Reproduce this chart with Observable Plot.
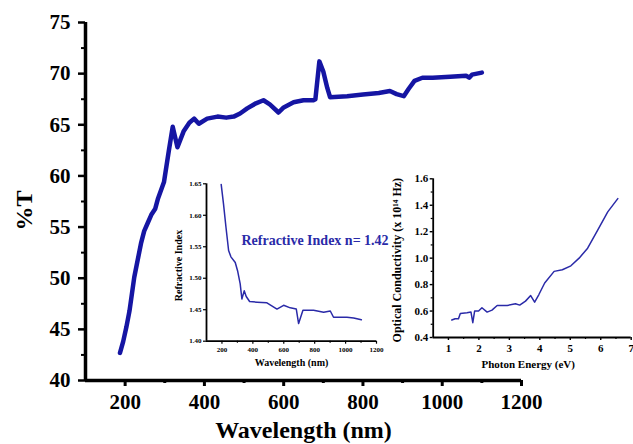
<!DOCTYPE html>
<html><head><meta charset="utf-8">
<script src="https://cdn.jsdelivr.net/npm/d3@7"></script>
<script src="https://cdn.jsdelivr.net/npm/@observablehq/plot@0.6"></script>
<style>
html,body{margin:0;padding:0;background:#fff;}
#wrap{position:relative;width:633px;height:444px;overflow:hidden;}
#wrap svg{position:absolute;overflow:visible;background:transparent !important;max-width:none !important;}
</style></head><body><div id="wrap"></div>
<script>
// Main chart: transmittance
const wavelength = [187,195,203,211,223,240,248,257,266,276,283,298,310,320,332,348,362,374,386,407,433,455,474,490,508,530,549,565,587,600,625,650,675,680,690,700,710,717,760,800,840,868,885,903,915,930,950,976,1020,1060,1068,1075,1100];
const transmittance = [42.7,43.8,45.2,46.8,50.1,53.4,54.6,55.4,56.2,56.8,57.8,59.4,62.4,64.8,62.8,64.4,65.2,65.6,65.1,65.6,65.8,65.7,65.8,66.1,66.6,67.1,67.4,67.0,66.2,66.7,67.2,67.4,67.4,67.5,71.2,70.2,68.6,67.7,67.8,67.95,68.1,68.3,68.0,67.8,68.5,69.3,69.6,69.6,69.7,69.8,69.6,69.9,70.1];
const mainXTicks = [200,400,600,800,1000,1200];
const mainXMinor = [300,500,700,900,1100];
const mainYTicks = [40,45,50,55,60,65,70,75];
const mainYMinor = [42.5,47.5,52.5,57.5,62.5,67.5,72.5];

// Inset 1: refractive index
const riWavelength = [195,210,226,243,258,286,301,318,329,344,357,379,427,491,556,599,642,681,696,724,793,858,901,922,1009,1052,1102];
const riIndex = [1.649,1.618,1.581,1.544,1.534,1.525,1.512,1.491,1.467,1.480,1.471,1.463,1.462,1.461,1.451,1.457,1.453,1.451,1.428,1.449,1.449,1.446,1.448,1.438,1.438,1.437,1.434];
const riXTicks = [200,400,600,800,1000,1200];
const riXMinor = [300,500,700,900,1100];
const riYTicks = [1.40,1.45,1.50,1.55,1.60,1.65];

// Inset 2: optical conductivity
const photonEnergy = [1.11,1.22,1.33,1.39,1.61,1.74,1.80,1.86,1.99,2.10,2.27,2.43,2.60,2.93,3.20,3.34,3.53,3.70,3.83,3.97,4.16,4.47,4.74,5.02,5.29,5.57,5.90,6.23,6.56];
const conductivity = [0.532,0.542,0.542,0.582,0.587,0.592,0.512,0.600,0.600,0.625,0.592,0.607,0.642,0.642,0.655,0.645,0.675,0.717,0.667,0.725,0.812,0.900,0.912,0.942,1.000,1.075,1.212,1.350,1.450];
const ocXTicks = [1,2,3,4,5,6,7];
const ocXMinor = [1.5,2.5,3.5,4.5,5.5,6.5];
const ocYTicks = [0.4,0.6,0.8,1.0,1.2,1.4,1.6];
const ocYMinor = [0.5,0.7,0.9,1.1,1.3,1.5];

const serif = "'Liberation Serif','Times New Roman',serif";
const wrap = document.getElementById("wrap");

const mainData = wavelength.map((w,i)=>({w, t: transmittance[i]}));
const main = Plot.plot({
  width: 633, height: 444,
  marginLeft: 85, marginRight: 112, marginTop: 22, marginBottom: 64,
  style: {fontFamily: serif, fontWeight: "bold", background: "transparent", color: "#000"},
  x: {domain: [100, 1200]},
  y: {domain: [40, 75]},
  marks: [
    Plot.axisX({ticks: mainXMinor, tickSize: 3, strokeWidth: 3, text: null, label: null}),
    Plot.axisX({ticks: mainXTicks, tickSize: 6, strokeWidth: 3, tickPadding: 8, fontSize: 21, label: null, tickFormat: d => String(d)}),
    Plot.axisY({ticks: mainYMinor, tickSize: 4, strokeWidth: 2, text: null, label: null}),
    Plot.axisY({ticks: mainYTicks, tickSize: 7, strokeWidth: 2.5, tickPadding: 8, fontSize: 21, label: null}),
    Plot.ruleY([40], {strokeWidth: 3.5}),
    Plot.ruleX([100], {strokeWidth: 3.5}),
    Plot.line(mainData, {x: "w", y: "t", stroke: "#1515a3", strokeWidth: 4.5, curve: "linear"}),
    Plot.text(["Wavelength (nm)"], {frameAnchor: "bottom", lineAnchor: "middle", textAnchor: "middle", dy: 50, fontSize: 24, fontWeight: "bold"}),
    Plot.text(["%T"], {frameAnchor: "left", textAnchor: "middle", lineAnchor: "middle", dx: -61, dy: 9, rotate: -90, fontSize: 24, fontWeight: "bold"})
  ]
});
main.style.left = "0px"; main.style.top = "0px";
wrap.appendChild(main);

const riData = riWavelength.map((w,i)=>({w, n: riIndex[i]}));
const inset1 = Plot.plot({
  width: 225, height: 200,
  marginLeft: 46, marginRight: 9, marginTop: 13.3, marginBottom: 29.3,
  style: {fontFamily: serif, fontWeight: "bold", background: "transparent", color: "#000"},
  x: {domain: [100, 1200]},
  y: {domain: [1.40, 1.65]},
  marks: [
    Plot.axisX({ticks: riXMinor, tickSize: 2, strokeWidth: 1.2, text: null, label: null}),
    Plot.axisX({ticks: riXTicks, tickSize: 3, strokeWidth: 1.2, tickPadding: 3, fontSize: 7, label: null, tickFormat: d => String(d)}),
    Plot.axisY({ticks: riYTicks, tickSize: 3, strokeWidth: 1.2, tickPadding: 2, fontSize: 7, label: null, tickFormat: d => d.toFixed(2)}),
    Plot.ruleY([1.40], {strokeWidth: 1.8}),
    Plot.ruleX([100], {strokeWidth: 1.8}),
    Plot.line(riData, {x: "w", y: "n", stroke: "#2a2aa8", strokeWidth: 1.5}),
    Plot.text(["Refractive Index n= 1.42"], {x: 326, y: 1.56, textAnchor: "start", fontSize: 14, fontWeight: "bold", fill: "#2a2aa8"}),
    Plot.text(["Wavelength (nm)"], {frameAnchor: "bottom", lineAnchor: "middle", textAnchor: "middle", dy: 22, fontSize: 10, fontWeight: "bold"}),
    Plot.text(["Refractive Index"], {frameAnchor: "left", textAnchor: "middle", lineAnchor: "middle", dx: -28, dy: 3, rotate: -90, fontSize: 10, fontWeight: "bold"})
  ]
});
inset1.style.left = "160px"; inset1.style.top = "170px";
wrap.appendChild(inset1);

const ocData = photonEnergy.map((e,i)=>({e, s: conductivity[i]}));
const inset2 = Plot.plot({
  width: 253, height: 200,
  marginLeft: 52.7, marginRight: 2.3, marginTop: 13.3, marginBottom: 28,
  style: {fontFamily: serif, fontWeight: "bold", background: "transparent", color: "#000"},
  x: {domain: [0.5, 7]},
  y: {domain: [0.4, 1.6]},
  marks: [
    Plot.axisX({ticks: ocXMinor, tickSize: 2, strokeWidth: 1.2, text: null, label: null}),
    Plot.axisX({ticks: ocXTicks, tickSize: 3, strokeWidth: 1.4, tickPadding: 4, fontSize: 11, label: null, tickFormat: d => String(d)}),
    Plot.axisY({ticks: ocYMinor, tickSize: 2, strokeWidth: 1.2, text: null, label: null}),
    Plot.axisY({ticks: ocYTicks, tickSize: 3, strokeWidth: 1.4, tickPadding: 2, fontSize: 11, label: null, tickFormat: d => d.toFixed(1)}),
    Plot.ruleY([0.4], {strokeWidth: 1.8}),
    Plot.ruleX([0.5], {strokeWidth: 1.8}),
    Plot.line(ocData, {x: "e", y: "s", stroke: "#2a2aa8", strokeWidth: 1.5}),
    Plot.text(["Photon Energy (eV)"], {frameAnchor: "bottom", lineAnchor: "middle", textAnchor: "middle", dx: -4, dy: 27, fontSize: 11, fontWeight: "bold"}),
    Plot.text(["Optical Conductivity (x 10¹⁴ Hz)"], {frameAnchor: "left", textAnchor: "middle", lineAnchor: "middle", dx: -36, dy: 2, rotate: -90, fontSize: 12, fontWeight: "bold"})
  ]
});
inset2.style.left = "380px"; inset2.style.top = "165px";
wrap.appendChild(inset2);
</script></body></html>
